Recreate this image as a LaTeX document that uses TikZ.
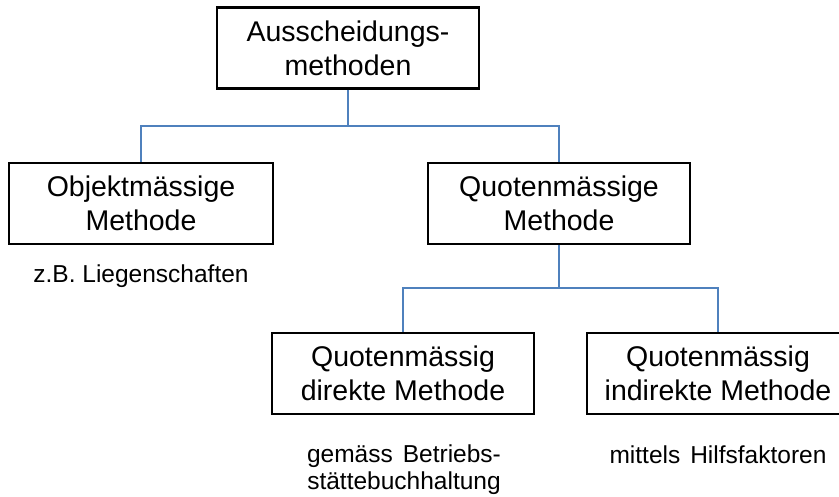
\documentclass[tikz,border=0pt]{standalone}
\usepackage{fontspec}
\setmainfont{Liberation Sans}
\definecolor{linkblue}{RGB}{79,129,189}
\begin{document}
\begin{tikzpicture}[x=1pt,y=-1pt,
    methbox/.style={draw=black,line width=2.6pt,align=center,inner sep=0pt,
      minimum width=262pt,minimum height=81pt,font=\fontsize{28.5}{34}\selectfont},
    note/.style={align=center,inner sep=0pt,font=\fontsize{24.5}{27}\selectfont},
    conn/.style={draw=linkblue,line width=1.4pt}]
    \useasboundingbox (0,0) rectangle (839,497);

    % boxes
    \node[methbox] (aus) at (348,48) {Ausscheidungs-\\methoden};
    \node[methbox,minimum width=264pt] (obj) at (141,203.5) {Objektmässige\\Methode};
    \node[methbox] (quo) at (559,203.5) {Quotenmässige\\Methode};
    \node[methbox] (dir) at (403,373.5) {Quotenmässig\\direkte Methode};
    \node[methbox] (ind) at (718,373.5) {Quotenmässig\\indirekte Methode};

    % notes
    \node[note,anchor=base] (nobj) at (141,283) {z.B. Liegenschaften};
    \node[note,anchor=base] (ndir) at (404,489) {gemäss\hspace{10pt}Betriebs-\\stättebuchhaltung};
    \node[note,anchor=base] (nind) at (718,463) {mittels\hspace{10pt}Hilfsfaktoren};

    % connectors
    \coordinate (j1) at (348,126);
    \coordinate (j2) at (559,288);
    \draw[conn] (aus.south) -- (j1);
    \draw[conn] (j1) -| (obj.north);
    \draw[conn] (j1) -| (quo.north);
    \draw[conn] (quo.south) -- (j2);
    \draw[conn] (j2) -| (dir.north);
    \draw[conn] (j2) -| (ind.north);
\end{tikzpicture}
\end{document}
